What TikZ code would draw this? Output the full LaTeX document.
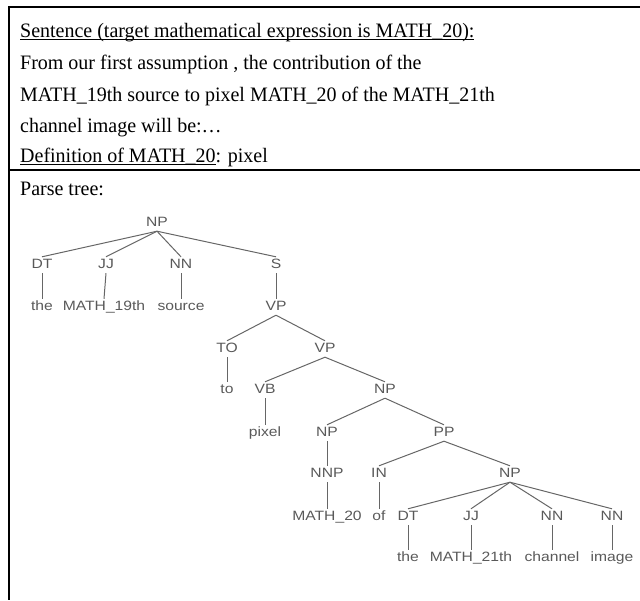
\documentclass[tikz,border=0pt]{standalone}
\usepackage{fontspec}
\setmainfont{Liberation Serif}[FakeStretch=0.975]
\setsansfont{Liberation Sans}[FakeStretch=1.16]
\usepackage{xcolor}
\usetikzlibrary{positioning}

\newcommand{\ulin}[1]{\setbox0\hbox{#1}\rlap{\rule[-3pt]{\wd0}{1.4pt}}\box0}

\begin{document}
\begin{tikzpicture}[
    x=1pt, y=-1pt,
    frame/.style={line width=2pt, black},
    line/.style={anchor=base west, inner sep=0pt, font=\fontsize{20.5}{24}\selectfont},
    tag/.style={inner sep=2.5pt, text height=9pt, text depth=2pt, text=black!65,
                font=\sffamily\fontsize{13.5}{15}\selectfont},
    branch/.style={draw=black!60, line width=1pt}
]
\useasboundingbox (0,0) rectangle (640,600);

% Frame
\draw[frame] (640,7) -- (9,7) -- (9,600);
\draw[frame] (9,169.5) -- (640,169.5);

% Sentence text
\node[line] (head) at (20,37) {\ulin{Sentence (target mathematical expression is MATH\_20):}};
\node[line] (l1) at (20,69) {From our first assumption , the contribution of the};
\node[line] (l2) at (20,101) {MATH\_19th source to pixel MATH\_20 of the MATH\_21th};
\node[line] (l3) at (20,132) {channel image will be:\dots};
\node[line] (def) at (20,162) {\ulin{Definition of MATH\_20}: pixel};
\node[line] (parse) at (20,195) {Parse tree:};

% Tree nodes
\node[tag] (np1) at (157,223) {NP};
\node[tag] (dt1) at (42,265) {DT};
\node[tag] (jj1) at (106,265) {JJ};
\node[tag] (nn1) at (181,265) {NN};
\node[tag] (s1) at (276,265) {S};
\node[tag] (the1) at (42,307) {the};
\node[tag] (math19) at (104,307) {MATH\_19th};
\node[tag] (source) at (181,307) {source};
\node[tag] (vp1) at (276,307) {VP};
\node[tag] (to1) at (227,349) {TO};
\node[tag] (vp2) at (325,349) {VP};
\node[tag] (wto) at (227,390) {to};
\node[tag] (vb) at (265,390) {VB};
\node[tag] (np2) at (385,390) {NP};
\node[tag] (pixel) at (265,433) {pixel};
\node[tag] (np3) at (327,433) {NP};
\node[tag] (pp) at (444,433) {PP};
\node[tag] (nnp) at (327,474) {NNP};
\node[tag] (in1) at (379,474) {IN};
\node[tag] (np4) at (510,474) {NP};
\node[tag] (math20) at (327,517) {MATH\_20};
\node[tag] (wof) at (379,517) {of};
\node[tag] (dt2) at (408,517) {DT};
\node[tag] (jj2) at (471,517) {JJ};
\node[tag] (nn2) at (552,517) {NN};
\node[tag] (nn3) at (612,517) {NN};
\node[tag] (the2) at (408,558) {the};
\node[tag] (math21) at (471,558) {MATH\_21th};
\node[tag] (channel) at (552,558) {channel};
\node[tag] (image) at (612,558) {image};

% Tree edges
\foreach \a/\b in {np1/dt1, np1/jj1, np1/nn1, np1/s1, dt1/the1, jj1/math19,
    nn1/source, s1/vp1, vp1/to1, vp1/vp2, to1/wto, vp2/vb, vp2/np2, vb/pixel,
    np2/np3, np2/pp, np3/nnp, pp/in1, pp/np4, nnp/math20, in1/wof,
    np4/dt2, np4/jj2, np4/nn2, np4/nn3, dt2/the2, jj2/math21, nn2/channel, nn3/image}
    \draw[branch] (\a.south) -- (\b.north);

\end{tikzpicture}
\end{document}
